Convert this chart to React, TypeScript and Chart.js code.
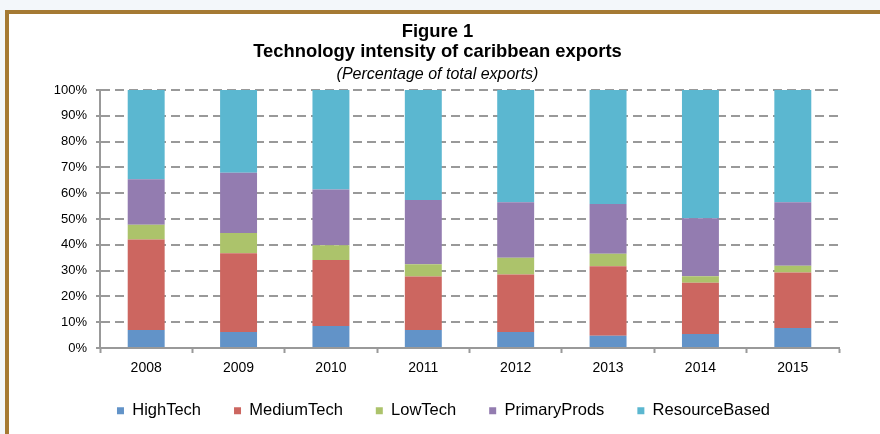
import React, { useEffect, useRef } from "react";
import { Chart, registerables } from "chart.js";

Chart.register(...registerables);

const years = ["2008", "2009", "2010", "2011", "2012", "2013", "2014", "2015"];
const highTech = [7.0, 6.2, 8.5, 7.0, 6.2, 4.7, 5.4, 7.8];
const mediumTech = [35.1, 30.5, 25.6, 20.7, 22.3, 27.0, 19.9, 21.5];
const lowTech = [5.7, 7.9, 5.7, 4.8, 6.5, 4.8, 2.5, 2.6];
const primaryProds = [17.6, 23.3, 21.6, 24.9, 21.5, 19.3, 22.5, 24.6];
const resourceBased = [34.6, 32.1, 38.6, 42.6, 43.5, 44.2, 49.7, 43.5];

const seriesNames = ["HighTech", "MediumTech", "LowTech", "PrimaryProds", "ResourceBased"];
const seriesColors = ["#6293C8", "#CC6660", "#ACC36B", "#937CB0", "#5BB7D0"];

const titleLines = ["Figure 1", "Technology intensity of caribbean exports"];
const subtitleText = "(Percentage of total exports)";

const FONT = "'Liberation Sans', Arial, Helvetica, sans-serif";

// nudges the legend block after layout (horizontal / vertical offset)
const legendShift = {
  id: "legendShift",
  afterLayout(chart: any) {
    const lg = chart.legend;
    if (!lg) return;
    const dx = 6;
    const dy = -5;
    lg.left += dx;
    lg.right += dx;
    lg.top += dy;
    lg.bottom += dy;
  },
};

export default function App() {
  const ref = useRef<HTMLCanvasElement | null>(null);

  useEffect(() => {
    if (!ref.current) return;
    const seriesData = [highTech, mediumTech, lowTech, primaryProds, resourceBased];
    const chart = new Chart(ref.current, {
      type: "bar",
      data: {
        labels: years,
        datasets: seriesNames.map((name, i) => ({
          label: name,
          data: seriesData[i],
          backgroundColor: seriesColors[i],
          borderWidth: 0,
          barPercentage: 0.4,
          categoryPercentage: 1,
        })),
      },
      plugins: [legendShift],
      options: {
        responsive: false,
        animation: false,
        devicePixelRatio: 1,
        layout: { padding: { left: 36, right: 41, top: 0, bottom: 0 } },
        plugins: {
          title: {
            display: true,
            text: titleLines,
            color: "#000",
            font: { family: FONT, size: 18.4, weight: "bold", lineHeight: 1.087 },
            padding: { top: 22, bottom: 0 },
          },
          subtitle: {
            display: true,
            text: subtitleText,
            color: "#000",
            font: { family: FONT, size: 16, style: "italic", lineHeight: 1.2 },
            padding: { top: 3, bottom: 5.8 },
          },
          legend: {
            position: "bottom",
            labels: {
              boxWidth: 7,
              boxHeight: 7,
              padding: 33,
              color: "#000",
              font: { family: FONT, size: 16.5 },
            },
          },
          tooltip: { enabled: false },
        },
        scales: {
          x: {
            stacked: true,
            afterFit: (s: any) => {
              s.height = 26.5;
            },
            grid: {
              display: true,
              drawOnChartArea: false,
              drawTicks: true,
              tickLength: 5,
              tickColor: "#999999",
              tickWidth: 2,
              offset: true,
            },
            border: { display: true, color: "#999999", width: 2 },
            ticks: {
              color: "#000",
              padding: 7,
              font: { family: FONT, size: 14 },
            },
          },
          y: {
            stacked: true,
            min: 0,
            max: 100,
            afterFit: (s: any) => {
              s.width = 64;
            },
            grid: {
              color: "#999999",
              lineWidth: 2,
              drawTicks: true,
              tickLength: 4,
              tickColor: "#999999",
              tickWidth: 2,
              tickBorderDash: [],
            },
            border: { display: true, color: "#999999", width: 2, dash: [9, 5] },
            ticks: {
              stepSize: 10,
              color: "#000",
              padding: 9,
              font: { family: FONT, size: 13 },
              callback: (v: any) => v + "%",
            },
          },
        },
      },
    });
    return () => chart.destroy();
  }, []);

  return (
    <div
      style={{
        position: "absolute",
        left: 0,
        top: 0,
        width: 880,
        height: 434,
        background: "#F3F7FA",
        overflow: "hidden",
      }}
    >
      <div
        style={{
          position: "absolute",
          left: 5,
          top: 10,
          width: 900,
          height: 450,
          background: "#ffffff",
          borderLeft: "4px solid #A57A33",
          borderTop: "4px solid #A57A33",
        }}
      />
      <canvas
        ref={ref}
        width={880}
        height={434}
        style={{ position: "absolute", left: 0, top: 0, width: 880, height: 434 }}
      />
    </div>
  );
}
